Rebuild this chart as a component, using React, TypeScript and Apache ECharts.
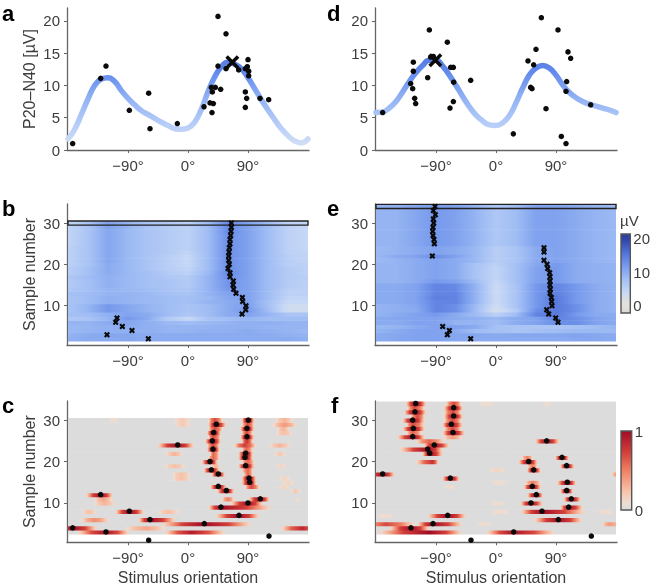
import React, { useEffect, useRef } from "react";
import * as echarts from "echarts";

// ---------- tick labels ----------
const orientationTicks = [-90, 0, 90];
const responseTicks = [0, 5, 10, 15, 20];
const sampleTicks = [10, 20, 30];
const muVTicks = [0, 10, 20];
const probTicks = [0, 1];

// ---------- panels a / d ----------
const curveAngles = [-180,-170,-160,-150,-140,-130,-120,-110,-100,-90,-80,-70,-60,-50,-40,-30,-20,-10,0,10,20,30,40,50,60,70,80,90,100,110,120,130,140,150,160,170,180];
const curveA = [1.7,3.2,5.5,7.9,10,11,11.2,10.6,9.2,8,7,6.1,5.5,4.9,4.3,3.8,3.3,3.2,3.4,4.3,6.3,9,11.3,12.9,13.6,13.3,12.6,11.2,9.5,7.8,6.2,4.7,3.3,2.2,1.4,1.1,1.7];
const curveD = [5.8,5.9,6.5,7.5,9,10.6,12,13.1,13.9,13.9,13,11.6,10,8.3,6.7,5.4,4.5,3.9,3.8,4.2,5.3,7.3,9.6,11.6,12.7,13.1,12.7,11.6,10.1,8.9,8.1,7.5,7.1,6.8,6.5,6.2,5.8];
const pointsA = [[-173,1],[-131,11.1],[-123,13],[-88,6.15],[-59,8.8],[-57,3.3],[-16,4.1],[24,6.7],[33,7.3],[38,7.2],[36,5.8],[35,9.7],[36.5,9],[41,9.7],[49,9.4],[45,13],[45,20.7],[57,18],[57,12.6],[76,12.4],[86,12.6],[89,12.9],[91,12.2],[91,11.5],[90,14],[86,9],[88,8],[86,6.6],[108,8],[121,7.8]];
const pointsD = [[-170,5.8],[-128,10.3],[-125,9.5],[-124,12.2],[-124,13.6],[-122,8],[-120.5,7.2],[-102.5,11.2],[-100,18.6],[-98,14.4],[-94,14.5],[-73,16.7],[-68,12.8],[-64,12.8],[-63.5,10.5],[-69,6.5],[-64,7.5],[-38,10.8],[26,2.5],[48,13.8],[52,9.7],[54,9.5],[56.5,13.2],[60,15.6],[68,20.5],[75,6.4],[93,18.6],[98,2.1],[105,1],[105,9.1],[106,10.6],[108,15.2],[112,14.2],[142,7]];
const peakA = [[66.5, 13.6]];
const peakD = [[-91, 13.9]];

// ---------- panels b / e: preferred orientation per sample (sample, angle) ----------
const maximaB = [[2,-59.5],[3,-121.5],[4,-84],[5,-98.5],[6,-108.5],[7,-106.5],[8,81],[9,86.5],[10,87],[11,82],[12,81.5],[13,72],[14,68.5],[15,67.5],[16,68],[17,63],[18,63],[19,60],[20,62],[21,61],[22,61],[23,61.5],[24,62],[25,63],[26,63],[27,64],[28,64.5],[29,65],[30,65]];
const maximaE = [[2,-38],[3,-73],[4,-70],[5,-80],[6,93],[7,89.5],[8,79],[9,76],[10,84],[11,83.5],[12,83],[13,81],[14,81.5],[15,81],[16,81],[17,81],[18,80.5],[19,77.5],[20,76.5],[21,72],[22,-95.5],[23,72],[24,72],[25,-92.5],[26,-93],[27,-94.5],[28,-95],[29,-94.5],[30,-93.5],[31,-94],[32,-91],[33,-94],[34,-91.5]];

const heatColumns = [-180,-150,-120,-90,-60,-30,0,30,60,90,120,150,180];
// rows for samples 2..30
const heatB = [
  [9.5,10,10,10.5,10,10,10,10,10,10,10,10,9.5],
  [9,10,10.5,10.5,10,10,10,10,10,10,10,9.5,9],
  [8.5,9,9.5,9.5,9.5,9,9,9.5,9.5,10,9.5,9,8.5],
  [8.5,9,9.5,10,9.5,9,9,9,9.5,9.5,9,9,9],
  [9,9,10,10.5,9.5,8.5,8,8.5,9,9.5,9.5,9,9],
  [6.5,7,9,12,10,6,4,7,8,9,8,8,8],
  [7.5,8,9.5,11,10,8,6.5,8,10,11,9,7,7],
  [7,9,12,10.5,9,8,7,8,10,12,8,3,3],
  [7,9,12,10.5,9,8,7,8,10,11.5,7.5,3,3],
  [7,8,9.5,9,8.5,8,7.5,9,10,11,7.5,4,4],
  [7,8,9.5,9,8.5,8,7.5,8.5,10.5,11,8,4.5,4.5],
  [7.5,8,9,9,8.5,7.5,7,9,11,11,8,5,5],
  [6.5,7.5,9,8.5,8,7,6.5,9,12,11,8,5.5,5],
  [6,7.5,9.5,8.5,7.5,7,6,9,12.5,11,8,6,5],
  [6,7.5,9.5,8.5,7.5,7,6,9,12.5,11,8,6,5],
  [6.5,8,9.5,8.5,7.5,6.5,6,9,13,11,8,6,5.5],
  [5.5,7.5,10,8.5,7.5,6,5,8.5,13.5,11,8,6,5],
  [5.5,7.5,10,8.5,7,5.5,4.5,8,13,11,8,6,5],
  [5,7,10,8.5,7,5.5,4,8,13,11,8,5.5,5],
  [5,7,10.5,8.5,7,5.5,4,8,13,11,8,5.5,4.5],
  [5,7,10.5,8.5,7,5.5,4,8,13,11,8,5.5,4.5],
  [5,7,10.5,8.5,7,6,4.5,8,13,11,8,5,4.5],
  [5,7,10.5,8.5,7,6,5,8,13,11,8,5,4],
  [4.5,7,10.5,8.5,7,6,5,8,13,11,8,5,4],
  [4.5,7,10.5,8.5,7,6,5,8,13,11,8,5,4],
  [4.5,7,10.5,8.5,7,6,5,8,13,11,8,5,4],
  [4.5,7,10.5,8.5,7,6,5,8,13.5,11,8,5,4],
  [4.5,7,11,9,7,6,5,8,13.5,11,8,5,4],
  [4.5,7,11,9,7,6,5,8,13.5,11,8,5,4],
];
// rows for samples 2..34
const heatE = [
  [10,10.5,11,11,10.5,10,10,10,10,10,10.5,10.5,10],
  [10,10.5,11,11,10.5,10.5,10,10.5,10.5,10.5,11,10.5,10],
  [9,10,11,11,10,8,7.5,7,7.5,8,8.5,8.5,8.5],
  [8.5,9,10,11,11,10,7.5,7,7,7,7.5,8,9],
  [10,10,11,11,9,9,8,10,11,13,13,11,10],
  [10,10.5,11,11,10,9.5,8.5,10,11,14,13,11,10],
  [9,10,11,12,10,8,5,8,14,15,12,10,10],
  [9,9.5,10,14,13,8,2,6,13,15,13,10,9],
  [9,9.5,10.5,14,13,8,3,7,12,15,13,10,9],
  [10,10,11,14,14,9,3.5,7,12,15,12,10,9],
  [10,10,11,14.5,14,9,3.5,7,12,15,12,10,9],
  [10,10,11,14,14,9,3.5,7,12,14.5,12,10,9],
  [10,10,11,14,13.5,9,3.5,7,12,14,12,10,9],
  [10,10,11,14,13.5,9,3.5,7,12,14,12,10,9],
  [9,9,10,12,11,8,4,7.5,11,12,10,9.5,9],
  [9,9,10,11,10,7,4.5,7.5,11,12,10,9.5,9],
  [9,9,10,11,10,7,4.5,7.5,11,12,10,9.5,9],
  [9,9,10,11,10,7,4.5,7.5,11,12,10,9.5,9],
  [9,9,10,11,10,7,5,7.5,10.5,12,10,9.5,9],
  [8.5,9,10,11,10,8.5,5.5,7,10,11,10,9,8.5],
  [8.5,10,11,13,11,8.5,5.5,7,10,11,10,9,8.5],
  [8.5,9,10,11,10,8.5,5.5,7,10,11,10,9,8.5],
  [8.5,9,10,11,10,8.5,5.5,7,10,11,10,9,8.5],
  [9,9,10.5,12,11,9,6.5,8,11,11,10,9,8.5],
  [9,9,10.5,12,11,9,6.5,8,11,11,10,9,8.5],
  [9,9,10.5,12,11,9,6.5,8,11,11,10,9,8.5],
  [9,9,10.5,12,11,9,6.5,8,11,11,10,9,8.5],
  [9,9,10.5,12,11,9,6.5,8,11,11,10,9,8.5],
  [9,9,10.5,12,11,9,6.5,8,11,11,10,9,8.5],
  [9,9,10.5,12,11,9,6.5,8,11,11,10,9,8.5],
  [9,9,10.5,12,11,9,6.5,8,11,11,10,9,8.5],
  [9,9,10.5,12,11,9,6.5,8,11,11,10,9,8.5],
  [9,9.5,10.5,12,11,9,6.5,8,11,11,10,9,8.5],
];

// ---------- panels c / f: dots (sample, angle) and bumps per sample [from, peak, to, height] ----------
const dotsC = [[1,-59],[2,121.5],[3,-123],[4,-173],[5,24.5],[6,-57],[7,76.5],[8,-88],[9,49.5],[10,90],[11,108.5],[12,-131],[13,57.5],[14,45.5],[15,92.5],[16,91.5],[17,45.5],[18,35],[19,86.5],[20,33],[21,85.5],[22,86.5],[23,37.5],[24,-15.5],[25,36.5],[26,88.5],[27,38.5],[28,88.5],[29,42.5],[30,90.5]];
const dotsF = [[1,-37.5],[2,143],[3,26.5],[4,-127.5],[5,-94.5],[6,93.5],[7,-72.5],[8,69],[9,109],[10,52.5],[11,113],[12,60.5],[13,106],[14,54.5],[15,107],[16,-68.5],[17,-170],[18,56.5],[19,106],[20,49],[21,99],[22,-99.5],[23,-102.5],[24,-92.5],[25,76],[26,-125],[27,-64.5],[28,-124],[29,-67],[30,-125],[31,-63.5],[32,-121.5],[33,-63.5],[34,-120.5]];
const bumpsC: Record<number, number[][]> = {
  3: [[-167,-123,-87,.95],[-37,5,58,.9]],
  4: [[-195,-173,-135,1],[-97,-62,-32,.35],[138,172,195,.85]],
  5: [[-42,24,98,1]],
  6: [[-162,-140,-117,.45],[-75,-57,-17,1]],
  7: [[40,76,108,1]],
  8: [[-160,-148,-137,.25],[-110,-88,-65,1],[-47,-30,-12,.25]],
  9: [[30,49,128,1]],
  10: [[-142,-125,-107,.3],[63,90,113,1]],
  11: [[-142,-127,-112,.35],[50,60,70,.5],[90,108,123,1],[160,165,170,.1]],
  12: [[-154,-131,-112,1]],
  13: [[43,57,70,1],[153,161,170,.2]],
  14: [[33,45,58,1],[85,95,108,.7],[135,145,153,.15]],
  15: [[80,92,103,1],[140,150,160,.15]],
  16: [[-25,-10,5,.25],[80,91,103,1],[135,145,155,.15]],
  17: [[-25,-10,5,.25],[35,45,56,1],[83,90,98,.6]],
  18: [[23,35,48,1],[80,90,98,.6]],
  19: [[-37,-20,-2,.25],[33,42,48,.3],[75,87,100,1],[130,140,148,.15]],
  20: [[20,33,45,1],[80,90,100,.6]],
  21: [[30,38,48,.6],[75,86,98,1]],
  22: [[-35,-20,-7,.3],[33,38,48,.6],[75,87,98,1],[128,138,148,.2]],
  23: [[28,38,48,1],[80,88,98,.6]],
  24: [[-47,-16,10,1],[28,38,48,.7],[68,85,103,.75],[120,138,155,.3]],
  25: [[25,37,50,1],[80,88,98,.8]],
  26: [[30,38,50,.7],[78,88,100,1]],
  27: [[28,38,50,1],[80,88,98,.7],[130,145,158,.25]],
  28: [[30,40,53,.7],[78,88,100,1],[133,143,153,.3]],
  29: [[-22,-8,5,.2],[30,42,58,1],[80,90,100,.7],[125,145,165,.4]],
  30: [[-118,-112,-105,.12],[-22,-8,5,.2],[30,40,53,.7],[80,90,100,1],[130,145,158,.3]],
};
const bumpsF: Record<number, number[][]> = {
  3: [[-179,-100,-49,1],[-16,26,91,.95]],
  4: [[-161,-127,-99,1]],
  5: [[-195,-165,-119,.7],[-119,-94,-49,1],[-29,-20,-4,.1],[158,170,195,.4]],
  6: [[56,93,131,1]],
  7: [[-179,-165,-152,.12],[-104,-72,-44,1]],
  8: [[-9,8,21,.12],[36,69,136,1],[151,165,176,.12]],
  9: [[96,109,131,1]],
  10: [[-9,2,16,.1],[36,52,71,1]],
  11: [[101,113,128,1]],
  12: [[46,60,71,1]],
  13: [[96,106,116,1]],
  14: [[-79,-70,-61,.12],[41,54,68,1]],
  15: [[-9,5,18,.12],[43,55,68,.5],[91,107,121,1]],
  16: [[-81,-68,-54,1]],
  17: [[-195,-170,-151,1],[173,180,195,.4]],
  18: [[-14,2,16,.15],[46,56,68,1]],
  19: [[46,55,63,.5],[96,106,118,1]],
  20: [[-121,-95,-86,.8],[33,49,63,1]],
  21: [[38,47,56,.5],[88,99,110,1]],
  22: [[-111,-99,-79,1]],
  23: [[-146,-102,-79,1]],
  24: [[-109,-92,-69,1]],
  25: [[-121,-100,-76,.6],[58,76,96,1]],
  26: [[-149,-125,-106,1],[-80,-65,-50,.4]],
  27: [[-135,-125,-110,.6],[-81,-64,-46,1]],
  28: [[-141,-124,-106,1],[-79,-65,-51,.7]],
  29: [[-135,-125,-106,.7],[-81,-67,-49,1]],
  30: [[-141,-125,-106,1],[-79,-65,-51,.7]],
  31: [[-129,-118,-106,.7],[-79,-63,-49,1]],
  32: [[-139,-121,-104,1],[-79,-65,-51,.7]],
  33: [[-134,-122,-106,.7],[-79,-63,-49,1]],
  34: [[-136,-120,-104,1],[-76,-63,-51,.7],[-29,-15,1,.1],[68,76,84,.1]],
};

// ---------- colours ----------
const blueStops: [number, string][] = [[-2.3,"#d9d9d9"],[0,"#e6e2d8"],[4,"#c7d8f6"],[8,"#a0bdf4"],[12,"#7699ec"],[16,"#4f6fd8"],[20,"#2f41a3"]];
const redStops: [number, string][] = [[0,"#dcdcdc"],[0.1,"#efdcd0"],[0.25,"#f7c0a6"],[0.5,"#ee8064"],[0.75,"#cf3a38"],[1,"#a00c24"]];
const curveColors = ["#d8e2f5","#b6cdf8","#92b2f4","#628bec","#4f6fd8","#2f41a3"];
const FONT = '"Liberation Sans", Arial, sans-serif';
const TEXT = "#3c3c3c";
const AXIS = "#666666";
const X_BIG = "path://M18,0 L50,32 L82,0 L100,18 L68,50 L100,82 L82,100 L50,68 L18,100 L0,82 L32,50 L0,18 Z";
const X_SMALL = "path://M25,0 L50,25 L75,0 L100,25 L75,50 L100,75 L75,100 L50,75 L25,100 L0,75 L25,50 L0,25 Z";

function hex(c: string) {
  return [1, 3, 5].map((i) => parseInt(c.slice(i, i + 2), 16));
}
function colorAt(stops: [number, string][], v: number) {
  if (v <= stops[0][0]) return stops[0][1];
  for (let i = 1; i < stops.length; i++) {
    if (v <= stops[i][0]) {
      const t = (v - stops[i - 1][0]) / (stops[i][0] - stops[i - 1][0]);
      const a = hex(stops[i - 1][1]);
      const b = hex(stops[i][1]);
      return `rgb(${a.map((x, k) => Math.round(x + (b[k] - x) * t)).join(",")})`;
    }
  }
  return stops[stops.length - 1][1];
}
// turns [angle, value] pairs into a left-to-right fill that follows the colour scale
function rowFill(points: number[][], stops: [number, string][]) {
  const out: { offset: number; color: string }[] = [];
  for (let i = 0; i < points.length; i++) {
    const [a, v] = points[i];
    out.push({ offset: (a + 180) / 360, color: colorAt(stops, v) });
    if (i + 1 < points.length) {
      const [a2, v2] = points[i + 1];
      for (let k = 1; k < 5; k++) {
        out.push({ offset: (a + ((a2 - a) * k) / 5 + 180) / 360, color: colorAt(stops, v + ((v2 - v) * k) / 5) });
      }
    }
  }
  return new echarts.graphic.LinearGradient(0, 0, 1, 0, out);
}
function heatPoints(values: number[]) {
  return values.map((v, i) => [heatColumns[i], v]);
}
// each bump is drawn with rounded shoulders and cut at the panel's edges
function clipToPanel(raw: number[][]) {
  const out: number[][] = [];
  for (let i = 0; i < raw.length; i++) {
    const [a, v] = raw[i];
    const prev = raw[i - 1];
    if (a >= -180 && a <= 180) {
      if (prev && prev[0] < -180) {
        out.push([-180, prev[1] + ((v - prev[1]) * (-180 - prev[0])) / (a - prev[0])]);
      }
      out.push([a, v]);
    } else if (a > 180 && prev && prev[0] < 180) {
      out.push([180, prev[1] + ((v - prev[1]) * (180 - prev[0])) / (a - prev[0])]);
    }
  }
  return out;
}
function bumpPoints(bumps: number[][]) {
  const pts: number[][] = [];
  bumps.forEach(([l, p, r, h]) => {
    pts.push(...clipToPanel([
      [l, 0],
      [(l + p) / 2, h * 0.72],
      [p, h],
      [(p + r) / 2, h * 0.72],
      [r, 0],
    ]));
  });
  if (pts[0][0] > -180) pts.unshift([-180, 0]);
  if (pts[pts.length - 1][0] < 180) pts.push([180, 0]);
  return pts;
}

// ---------- layout ----------
const LEFT_COL = 67;
const RIGHT_COL = 375;
const GRID_W = 242;
const TOPS = [8, 204, 401];
const HEIGHTS = [142, 141, 141.3];
const XMIN = -181.5;
const XMAX = 181.5;
const YMIN = 0.5;
const YMAX = 34.6;

function xAxis(gridIndex: number, name?: string) {
  return {
    type: "value", gridIndex, min: XMIN, max: XMAX,
    name, nameLocation: "middle", nameGap: 27,
    nameTextStyle: { fontFamily: FONT, fontSize: 16, color: TEXT },
    axisLine: { show: true, onZero: false, lineStyle: { color: AXIS, width: 1.3 } },
    axisTick: { show: true, length: 3, customValues: orientationTicks, lineStyle: { color: AXIS, width: 1 } },
    axisLabel: { show: true, margin: 8, customValues: orientationTicks, fontFamily: FONT, fontSize: 15, color: TEXT, formatter: (v: number) => (v < 0 ? `\u2212${-v}°` : `${v}°`) },
    splitLine: { show: false },
  };
}
function yAxis(gridIndex: number, min: number, max: number, ticks: number[], name?: string) {
  return {
    type: "value", gridIndex, min, max,
    name, nameLocation: "middle", nameGap: 30,
    nameTextStyle: { fontFamily: FONT, fontSize: 16, color: TEXT },
    axisLine: { show: true, onZero: false, lineStyle: { color: AXIS, width: 1.3 } },
    axisTick: { show: true, length: 3, customValues: ticks, lineStyle: { color: AXIS, width: 1 } },
    axisLabel: { show: true, margin: 7, customValues: ticks, fontFamily: FONT, fontSize: 15, color: TEXT },
    splitLine: { show: false },
  };
}
function curveSeries(ax: number, values: number[]) {
  return {
    type: "line", xAxisIndex: ax, yAxisIndex: ax, smooth: 0.5, showSymbol: false, symbol: "none", z: 2,
    lineStyle: { width: 5.5, cap: "round" },
    data: values.map((v, i) => [curveAngles[i], v]),
  };
}
function scatterSeries(ax: number, data: number[][], symbol: string, size: number, z = 5) {
  return {
    type: "scatter", xAxisIndex: ax, yAxisIndex: ax, symbol, symbolSize: size, z,
    itemStyle: { color: "#0a0a0a", opacity: 1 },
    data,
  };
}
function swapped(list: number[][]) {
  return list.map(([sample, angle]) => [angle, sample]);
}
function rowSeries(ax: number, rows: number[], fills: any[], z = 2, stroke?: string) {
  return {
    type: "custom", coordinateSystem: "cartesian2d", xAxisIndex: ax, yAxisIndex: ax, z, silent: true,
    clip: false,
    encode: { x: 0, y: 1 },
    data: rows.map((r) => [0, r]),
    renderItem: (params: any, api: any) => {
      const row = api.value(1);
      const a = api.coord([-180, row + 0.5]);
      const b = api.coord([180, row - 0.5]);
      return {
        type: "rect",
        shape: { x: a[0], y: a[1], width: b[0] - a[0], height: b[1] - a[1] + (stroke ? 0 : 0.6) },
        style: { fill: fills[params.dataIndex], stroke: stroke || undefined, lineWidth: stroke ? 1.4 : 0 },
      };
    },
  };
}
function barSeries(ax: number, stops: [number, string][], lo: number, hi: number) {
  const fill = new echarts.graphic.LinearGradient(0, 1, 0, 0,
    Array.from({ length: 25 }, (_, i) => ({ offset: i / 24, color: colorAt(stops, lo + ((hi - lo) * i) / 24) })));
  return {
    type: "custom", coordinateSystem: "cartesian2d", xAxisIndex: ax, yAxisIndex: ax, z: 2, silent: true,
    encode: { x: 0, y: 1 },
    data: [[0, lo]],
    renderItem: (_: any, api: any) => {
      const a = api.coord([0, hi]);
      const b = api.coord([1, lo]);
      return {
        type: "rect",
        shape: { x: a[0], y: a[1], width: b[0] - a[0], height: b[1] - a[1] },
        style: { fill, stroke: "#555555", lineWidth: 1.4 },
      };
    },
  };
}
function letter(text: string, x: number, y: number) {
  return { type: "text", x, y, style: { text, font: `bold 22px ${FONT}`, fill: "#000000" } };
}

function buildOption() {
  const rowsB = heatB.map((_, i) => i + 2);
  const rowsE = heatE.map((_, i) => i + 2);
  const rowsC = Object.keys(bumpsC).map(Number);
  const rowsF = Object.keys(bumpsF).map(Number);
  const fillsB = heatB.map((r) => rowFill(heatPoints(r), blueStops));
  const fillsE = heatE.map((r) => rowFill(heatPoints(r), blueStops));
  const fillsC = rowsC.map((r) => rowFill(bumpPoints(bumpsC[r]), redStops));
  const fillsF = rowsF.map((r) => rowFill(bumpPoints(bumpsF[r]), redStops));

  const grids = [
    { left: LEFT_COL, top: TOPS[0], width: GRID_W, height: HEIGHTS[0] },
    { left: RIGHT_COL, top: TOPS[0], width: GRID_W, height: HEIGHTS[0] },
    { left: LEFT_COL, top: TOPS[1], width: GRID_W, height: HEIGHTS[1] },
    { left: RIGHT_COL, top: TOPS[1], width: GRID_W, height: HEIGHTS[1] },
    { left: LEFT_COL, top: TOPS[2], width: GRID_W, height: HEIGHTS[2] },
    { left: RIGHT_COL, top: TOPS[2], width: GRID_W, height: HEIGHTS[2] },
    { left: 621, top: 234, width: 10.7, height: 79 },
    { left: 621, top: 431, width: 10.7, height: 79 },
  ];
  const hiddenX = (gridIndex: number) => ({ type: "value", gridIndex, min: 0, max: 1, show: false });
  const barY = (gridIndex: number, min: number, max: number, ticks: number[], tickLen: number) => ({
    type: "value", gridIndex, min, max, position: "right",
    axisLine: { show: false },
    axisTick: { show: tickLen > 0, length: tickLen, customValues: ticks, lineStyle: { color: "#555555" } },
    axisLabel: { show: true, margin: 3, customValues: ticks, fontFamily: FONT, fontSize: 15, color: TEXT },
    splitLine: { show: false },
  });

  return {
    animation: false,
    backgroundColor: "#ffffff",
    grid: grids,
    xAxis: [
      xAxis(0), xAxis(1), xAxis(2), xAxis(3),
      xAxis(4, "Stimulus orientation"), xAxis(5, "Stimulus orientation"),
      hiddenX(6), hiddenX(7),
    ],
    yAxis: [
      yAxis(0, 0, 22, responseTicks, "P20\u2013N40 [\u00b5V]"),
      yAxis(1, 0, 22, responseTicks),
      yAxis(2, YMIN, YMAX, sampleTicks, "Sample number"),
      yAxis(3, YMIN, YMAX, sampleTicks),
      yAxis(4, YMIN, YMAX, sampleTicks, "Sample number"),
      yAxis(5, YMIN, YMAX, sampleTicks),
      barY(6, -2.3, 21.4, muVTicks, 2),
      barY(7, 0, 1, probTicks, 0),
    ],
    visualMap: [{
      type: "continuous", show: false, seriesIndex: [0, 1], dimension: 1, min: 0, max: 20,
      inRange: { color: curveColors },
    }],
    series: [
      curveSeries(0, curveA),
      curveSeries(1, curveD),
      scatterSeries(0, pointsA, "circle", 5.5),
      scatterSeries(1, pointsD, "circle", 5.5),
      scatterSeries(0, peakA, X_BIG, 14, 6),
      scatterSeries(1, peakD, X_BIG, 14, 6),
      rowSeries(2, rowsB, fillsB),
      rowSeries(3, rowsE, fillsE),
      rowSeries(2, [30], [fillsB[fillsB.length - 1]], 3, "#222222"),
      rowSeries(3, [34], [fillsE[fillsE.length - 1]], 3, "#222222"),
      scatterSeries(2, swapped(maximaB), X_SMALL, 6),
      scatterSeries(3, swapped(maximaE), X_SMALL, 6),
      rowSeries(4, rowsC, fillsC),
      rowSeries(5, rowsF, fillsF),
      scatterSeries(4, swapped(dotsC), "circle", 5.5),
      scatterSeries(5, swapped(dotsF), "circle", 5.5),
      barSeries(6, blueStops, -2.3, 21.4),
      barSeries(7, redStops, 0, 1),
    ],
    graphic: [
      letter("a", 2, 2), letter("d", 327, 2),
      letter("b", 2, 197), letter("e", 327, 197),
      letter("c", 2, 394), letter("f", 331, 394),
      { type: "text", x: 620, y: 213, style: { text: "\u00b5V", font: `15px ${FONT}`, fill: TEXT } },
    ],
  };
}

export default function App() {
  const ref = useRef<HTMLDivElement>(null);
  useEffect(() => {
    const chart = echarts.init(ref.current!, undefined, { renderer: "svg" });
    chart.setOption(buildOption() as any);
    return () => chart.dispose();
  }, []);
  return <div ref={ref} style={{ position: "absolute", left: 0, top: 0, width: 653, height: 588, filter: "blur(0.5px)" }} />;
}
